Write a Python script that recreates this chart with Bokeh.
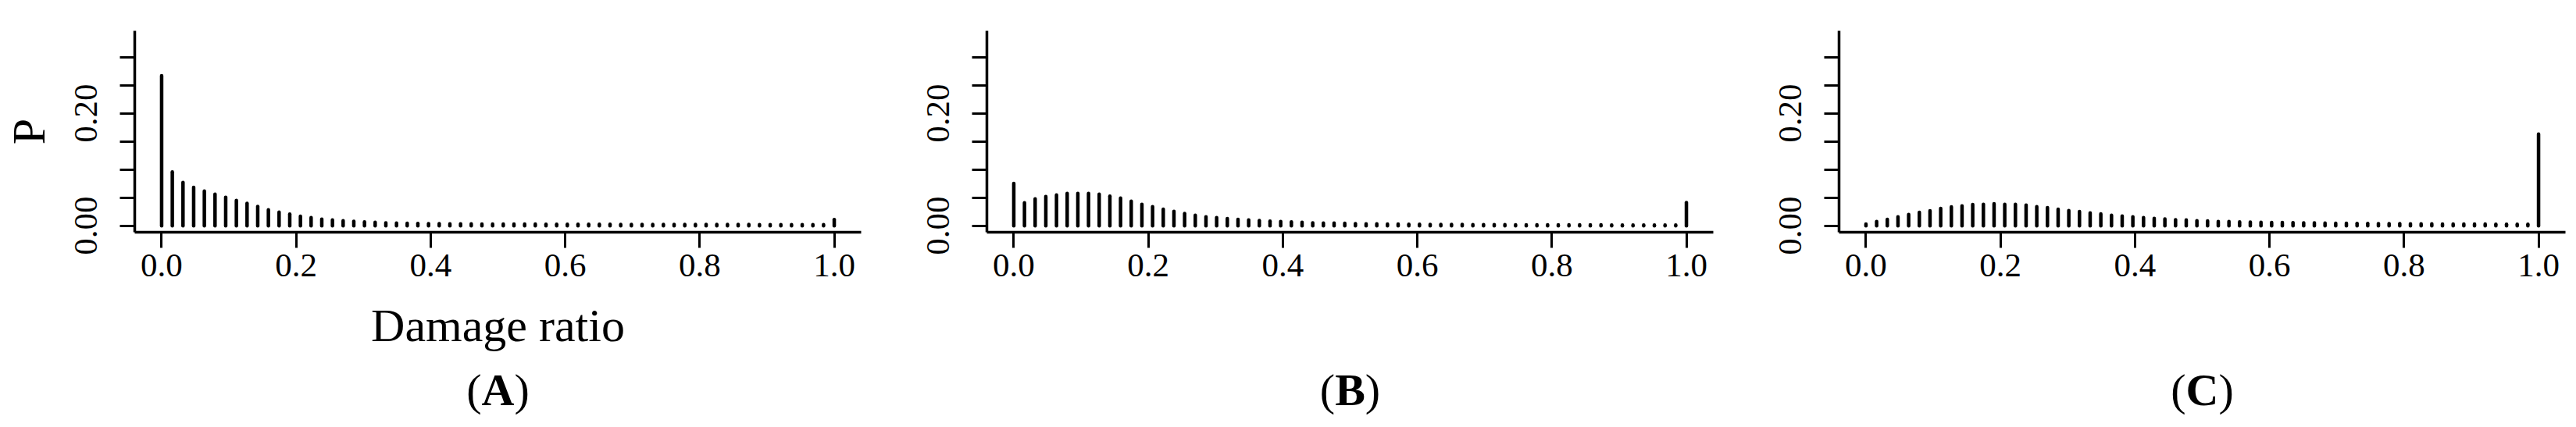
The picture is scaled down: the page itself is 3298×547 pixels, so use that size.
import math
from bokeh.plotting import figure
from bokeh.layouts import row, column
from bokeh.models import Range1d, FixedTicker, PrintfTickFormatter, ColumnDataSource
from bokeh.core.properties import value
from bokeh.embed import file_html
from bokeh.resources import INLINE

# ---------------- data ----------------
damage_ratio = [k / 63 for k in range(64)]

prob_a = [0.267, 0.0956, 0.0771, 0.0683, 0.0618, 0.0563, 0.0507, 0.0451, 0.0400, 0.0344,
          0.0285, 0.0243, 0.0206, 0.0169, 0.0146, 0.0118, 0.0104, 0.0090, 0.0080, 0.0067,
          0.0063, 0.0053, 0.0049, 0.0044,
          0.0040, 0.0038, 0.0036, 0.0035, 0.0034, 0.0033, 0.0032, 0.0031, 0.0030, 0.0030,
          0.0029, 0.0029, 0.0028, 0.0028, 0.0027, 0.0027, 0.0026, 0.0026, 0.0026, 0.0025,
          0.0025, 0.0025, 0.0024, 0.0024, 0.0024, 0.0023, 0.0023, 0.0023, 0.0022, 0.0022,
          0.0022, 0.0022, 0.0021, 0.0021, 0.0021, 0.0021, 0.0020, 0.0020, 0.0020,
          0.011]

prob_b = [0.0753, 0.0410, 0.0479, 0.0521, 0.0549, 0.0576, 0.0576, 0.0576, 0.0563, 0.0526,
          0.0493, 0.0438, 0.0382, 0.0340, 0.0294, 0.0257, 0.0219, 0.0188, 0.0160, 0.0146,
          0.0128, 0.0113, 0.0104, 0.0094, 0.0081, 0.0076, 0.0067, 0.0063, 0.0053, 0.0049,
          0.0049, 0.0044, 0.0039, 0.0035, 0.0035,
          0.0031, 0.0029, 0.0027, 0.0026, 0.0025, 0.0024, 0.0023, 0.0022, 0.0021, 0.0020,
          0.0019, 0.0019, 0.0018, 0.0018, 0.0017, 0.0017, 0.0016, 0.0016, 0.0015, 0.0015,
          0.0015, 0.0014, 0.0014, 0.0014, 0.0013, 0.0013, 0.0013, 0.0012,
          0.0414]

prob_c = [0.0031, 0.0076, 0.0114, 0.0160, 0.0201, 0.0239, 0.0267, 0.0308, 0.0336, 0.0354,
          0.0378, 0.0382, 0.0392, 0.0382, 0.0382, 0.0368, 0.0340, 0.0322, 0.0294, 0.0271,
          0.0253, 0.0229, 0.0210, 0.0188, 0.0174, 0.0160, 0.0146, 0.0132, 0.0122, 0.0108,
          0.0104, 0.0090, 0.0086, 0.0076, 0.0076, 0.0067,
          0.0066, 0.0063, 0.0060, 0.0057, 0.0054, 0.0052, 0.0050, 0.0048, 0.0046, 0.0044,
          0.0042, 0.0040, 0.0039, 0.0037, 0.0036, 0.0035, 0.0034, 0.0033, 0.0032, 0.0031,
          0.0030, 0.0030, 0.0029, 0.0028, 0.0028, 0.0027, 0.0027,
          0.163]

x_ticks = [0.0, 0.2, 0.4, 0.6, 0.8, 1.0]
y_ticks = [0.0, 0.05, 0.10, 0.15, 0.20, 0.25, 0.30]
y_tick_labels = {0.0: "0.00", 0.05: "", 0.10: "", 0.15: "", 0.20: "0.20", 0.25: "", 0.30: ""}
panel_letters = ["A", "B", "C"]
x_title = "Damage ratio"
y_title = "P"

FONT = "Liberation Serif"
PAGE_H = 547
FRAME_W = 930
FRAME_H = 258
TOP = 39
MAIN_H = 460
LABEL_H = PAGE_H - MAIN_H
YLAB_W = 70


def blank_fig(w, h):
    p = figure(frame_width=w, frame_height=h,
               min_border_left=0, min_border_right=0, min_border_top=0, min_border_bottom=0,
               x_range=Range1d(0, w), y_range=Range1d(0, h),
               x_axis_type=None, y_axis_type=None,
               output_backend="svg", toolbar_location=None,
               background_fill_color="white", border_fill_color="white")
    p.outline_line_color = None
    p.xgrid.visible = False
    p.ygrid.visible = False
    return p


def make_panel(probs, border_left, border_right, first):
    p = figure(frame_width=FRAME_W, frame_height=FRAME_H,
               min_border_left=border_left, min_border_right=border_right,
               min_border_top=TOP, min_border_bottom=MAIN_H - TOP - FRAME_H,
               x_range=Range1d(-0.04, 1.04), y_range=Range1d(-0.01153, 0.3468),
               output_backend="svg", toolbar_location=None,
               background_fill_color="white", border_fill_color="white")
    p.outline_line_color = None
    p.xgrid.visible = False
    p.ygrid.visible = False

    src = ColumnDataSource(dict(x=damage_ratio, y0=[0.0] * len(probs), y=probs))
    p.segment(x0="x", y0="y0", x1="x", y1="y", source=src,
              line_width=4.5, line_color="black", line_cap="round")

    for ax in (p.xaxis[0], p.yaxis[0]):
        ax.axis_line_width = 3.5
        ax.axis_line_color = "black"
        ax.major_tick_line_width = 3
        ax.major_tick_line_color = "black"
        ax.major_tick_in = 0
        ax.minor_tick_line_color = None
        ax.major_label_text_font = FONT
        ax.major_label_text_font_size = "43px"
        ax.major_label_text_color = "black"
        ax.axis_label_text_font = FONT
        ax.axis_label_text_font_size = "60px"
        ax.axis_label_text_font_style = "normal"
        ax.axis_label_text_color = "black"

    xa = p.xaxis[0]
    xa.ticker = FixedTicker(ticks=x_ticks)
    xa.formatter = PrintfTickFormatter(format="%.1f")
    xa.major_tick_out = 20
    xa.major_label_standoff = 8

    ya = p.yaxis[0]
    ya.ticker = FixedTicker(ticks=y_ticks)
    ya.formatter = PrintfTickFormatter(format="%.2f")
    ya.major_label_overrides = y_tick_labels
    ya.major_tick_out = 19
    ya.major_label_standoff = 29
    ya.major_label_orientation = "vertical"

    if first:
        xa.axis_label = x_title
        xa.axis_label_standoff = 27
    return p


def make_label(letter, border_left, border_right):
    width = border_left + FRAME_W + border_right
    p = blank_fig(width, LABEL_H)
    cx = border_left + FRAME_W / 2
    base = LABEL_H - (499 - MAIN_H)
    w = {"A": 0.722, "B": 0.667, "C": 0.722}[letter] * 58
    for txt, off, align, style in (("(", -w / 2, "right", "normal"),
                                   (letter, 0, "center", "bold"),
                                   (")", w / 2, "left", "normal")):
        p.text(x=[cx + off], y=[base], text=[txt], text_align=align,
               text_baseline="alphabetic", text_font=value(FONT),
               text_font_size="58px", text_font_style=style, text_color="black")
    return p


# y-axis title "P" in its own narrow strip at the far left
ylab = blank_fig(YLAB_W, PAGE_H)
ylab.text(x=[36], y=[PAGE_H - (TOP + FRAME_H / 2)], text=[y_title], angle=math.pi / 2,
          text_align="center", text_baseline="middle", text_font=value(FONT),
          text_font_size="60px", text_color="black")

borders = [(172 - YLAB_W, 6), (155, 6), (155, 14)]
probs_all = [prob_a, prob_b, prob_c]

panels = [make_panel(pr, bl, br, i == 0) for i, (pr, (bl, br)) in enumerate(zip(probs_all, borders))]
labels = [make_label(lt, bl, br) for lt, (bl, br) in zip(panel_letters, borders)]

layout = row(ylab, column(row(*panels), row(*labels)))
open("out.html", "w").write(file_html(layout, INLINE))
